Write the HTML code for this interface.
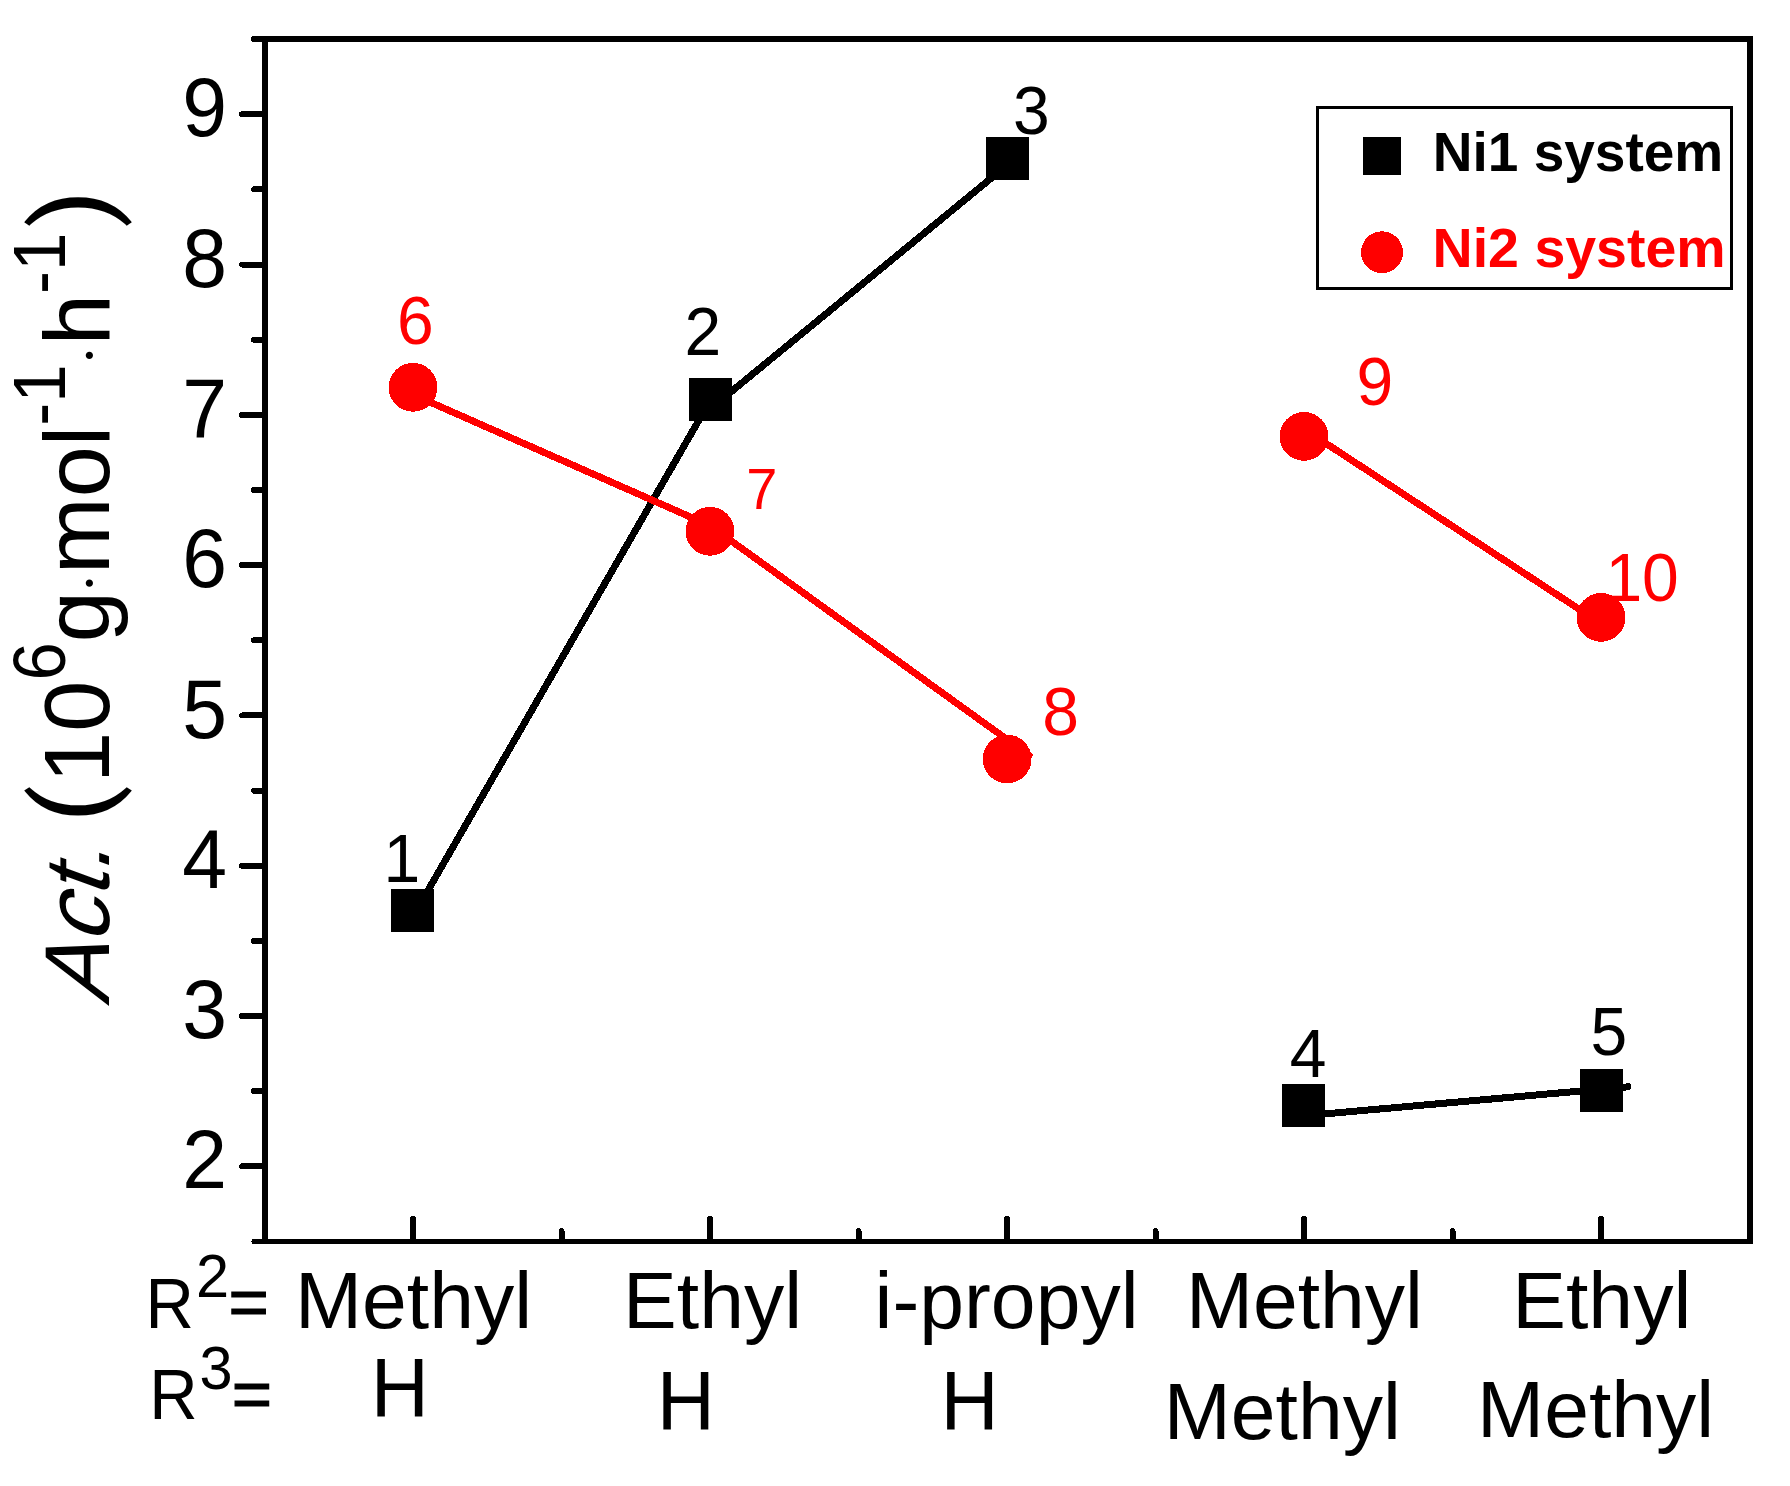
<!DOCTYPE html>
<html lang="en">
<head>
<meta charset="utf-8">
<title>Figure</title>
<style>
  html, body { margin: 0; padding: 0; background: #ffffff; }
  body { width: 1790px; height: 1486px; overflow: hidden; }
  svg { display: block; }
  text { font-family: "Liberation Sans", Arial, Helvetica, sans-serif; }
  .tick { font-size: 80.5px; fill: #000; }
  .cat { font-size: 80.5px; fill: #000; }
  .pt { font-size: 66px; }
  .leg { font-size: 55.5px; font-weight: bold; }
  .ttl { font-size: 92px; fill: #000; }
  .sup { font-size: 69px; fill: #000; }
  .paren { font-family: "Noto Serif CJK SC", "Noto Sans CJK SC", serif; font-weight: 600; fill: #000; stroke: #000; stroke-width: 4px; }
  .dot { font-family: "Liberation Serif", "Liberation Sans", serif; fill: #000; }
</style>
</head>
<body>
<svg width="1790" height="1486" viewBox="0 0 1790 1486" shape-rendering="crispEdges">
  <rect x="0" y="0" width="1790" height="1486" fill="#ffffff"/>

  <!-- plot frame -->
  <g fill="#000">
    <rect x="262" y="36" width="1491" height="6"/>
    <rect x="262" y="1239" width="1491" height="5"/>
    <rect x="262" y="36" width="6" height="1208"/>
    <rect x="1747" y="36" width="6" height="1208"/>
  </g>

  <!-- axis ticks -->
  <g stroke="#000" stroke-width="6" stroke-linecap="round">
    <line x1="242" y1="1166.35" x2="264" y2="1166.35"/>
    <line x1="242" y1="1016.05" x2="264" y2="1016.05"/>
    <line x1="242" y1="865.75" x2="264" y2="865.75"/>
    <line x1="242" y1="715.45" x2="264" y2="715.45"/>
    <line x1="242" y1="565.15" x2="264" y2="565.15"/>
    <line x1="242" y1="414.85" x2="264" y2="414.85"/>
    <line x1="242" y1="264.55" x2="264" y2="264.55"/>
    <line x1="242" y1="114.25" x2="264" y2="114.25"/>
    <line x1="254" y1="1241.5" x2="264" y2="1241.5" stroke-width="5"/>
    <line x1="254" y1="1091.2" x2="264" y2="1091.2"/>
    <line x1="254" y1="940.9" x2="264" y2="940.9"/>
    <line x1="254" y1="790.6" x2="264" y2="790.6"/>
    <line x1="254" y1="640.3" x2="264" y2="640.3"/>
    <line x1="254" y1="490.0" x2="264" y2="490.0"/>
    <line x1="254" y1="339.7" x2="264" y2="339.7"/>
    <line x1="254" y1="189.4" x2="264" y2="189.4"/>
    <line x1="254" y1="39" x2="264" y2="39"/>
    <line x1="413" y1="1219" x2="413" y2="1240"/>
    <line x1="710" y1="1219" x2="710" y2="1240"/>
    <line x1="1007" y1="1219" x2="1007" y2="1240"/>
    <line x1="1304" y1="1219" x2="1304" y2="1240"/>
    <line x1="1601" y1="1219" x2="1601" y2="1240"/>
    <line x1="561.5" y1="1231" x2="561.5" y2="1240"/>
    <line x1="858.5" y1="1231" x2="858.5" y2="1240"/>
    <line x1="1155.5" y1="1231" x2="1155.5" y2="1240"/>
    <line x1="1452.5" y1="1231" x2="1452.5" y2="1240"/>
  </g>

  <!-- y tick labels -->
  <g class="tick" text-anchor="end">
    <text transform="translate(227,136.2) scale(1,1.04)" >9</text>
    <text transform="translate(227,286.6) scale(1,1.04)" >8</text>
    <text transform="translate(227,436.9) scale(1,1.04)" >7</text>
    <text transform="translate(227,587.1) scale(1,1.04)" >6</text>
    <text transform="translate(227,737.5) scale(1,1.04)" >5</text>
    <text transform="translate(227,887.8) scale(1,1.04)" >4</text>
    <text transform="translate(227,1038.0) scale(1,1.04)" >3</text>
    <text transform="translate(227,1188.3) scale(1,1.04)" >2</text>
  </g>

  <!-- y axis title -->
  <g transform="translate(109,0) rotate(-90)">
    <text class="ttl" transform="skewX(-20)" x="-1006.3" y="0">Act.</text>
    <text class="paren" font-size="100" transform="translate(-867.5,10.1) scale(0.83,1.083)">（</text>
    <text class="ttl" x="-782.9" y="0">10</text>
    <text class="sup" transform="translate(-680.6,-44.1) scale(1,1.07)">6</text>
    <text class="ttl" x="-642.2" y="0">g</text>
    <text class="dot" x="-593.3" y="0.5" font-size="61">·</text>
    <text class="ttl" x="-574" y="0">mol</text>
    <text class="sup" transform="translate(-425.8,-44.1) scale(1,1.07)">-1</text>
    <text class="dot" x="-365.6" y="0.5" font-size="61">·</text>
    <text class="ttl" x="-345.2" y="0">h</text>
    <text class="sup" transform="translate(-294,-44.1) scale(1,1.07)">-1</text>
    <text class="paren" font-size="100" transform="translate(-228.3,10.1) scale(0.83,1.083)">）</text>
  </g>

  <!-- connecting lines -->
  <g fill="none" stroke-width="7" stroke-linecap="round" stroke-linejoin="round">
    <polyline stroke="#000" points="416.4,910.5 706.5,407"/>
    <polyline stroke="#000" points="706,412.4 1007.5,164.8"/>
    <polyline stroke="#000" points="1303.5,1115.8 1628,1086.8"/>
    <polyline stroke="#ff0000" points="413,394.6 710,525.6 1029,755.3"/>
    <polyline stroke="#ff0000" points="1304,429 1601,623.5"/>
  </g>

  <!-- Ni1 squares -->
  <g fill="#000">
    <rect x="391" y="889" width="43" height="43"/>
    <rect x="689" y="378" width="43" height="43"/>
    <rect x="986" y="137" width="43" height="43"/>
    <rect x="1282" y="1084" width="43" height="43"/>
    <rect x="1580" y="1069" width="43" height="43"/>
  </g>
  <!-- Ni2 circles -->
  <g fill="#ff0000">
    <circle cx="413" cy="387.3" r="24.4"/>
    <circle cx="710" cy="531.3" r="24.4"/>
    <circle cx="1007.1" cy="759" r="24.4"/>
    <circle cx="1304" cy="436.4" r="24.4"/>
    <circle cx="1601" cy="617.4" r="24.4"/>
  </g>

  <!-- point labels -->
  <g class="pt" fill="#000">
    <text transform="translate(383.4,882) scale(1,1.04)" >1</text>
    <text transform="translate(684.4,355.3) scale(1,1.04)" >2</text>
    <text transform="translate(1012.9,134.2) scale(1,1.04)" >3</text>
    <text transform="translate(1289.8,1076.6) scale(1,1.04)" >4</text>
    <text transform="translate(1590.6,1055.2) scale(1,1.04)" >5</text>
  </g>
  <g class="pt" fill="#ff0000">
    <text transform="translate(397.1,343.5) scale(1,1.04)" >6</text>
    <text transform="translate(746.3,509) scale(1,1.04)" font-size="56">7</text>
    <text transform="translate(1042.3,735.1) scale(1,1.04)" >8</text>
    <text transform="translate(1356.4,405.3) scale(1,1.04)" >9</text>
    <text transform="translate(1605.4,601.1) scale(1,1.04)" >10</text>
  </g>

  <!-- legend -->
  <rect x="1317.5" y="107.5" width="414" height="181" fill="#fff" stroke="#000" stroke-width="3"/>
  <rect x="1363" y="137" width="38" height="38" fill="#000"/>
  <circle cx="1382" cy="252.3" r="21" fill="#ff0000"/>
  <text class="leg" x="1432.8" y="171" font-size="55" style="font-size:55px" fill="#000">Ni1 system</text>
  <text class="leg" x="1432.6" y="267" fill="#ff0000">Ni2 system</text>

  <!-- x category labels -->
  <g class="cat">
    <text x="295" y="1327.8">Methyl</text>
    <text x="623.1" y="1327.8">Ethyl</text>
    <text x="874.6" y="1327.8">i-propyl</text>
    <text x="1185.9" y="1327.9">Methyl</text>
    <text x="1512.3" y="1327.9">Ethyl</text>
    <text transform="translate(370.7,1416.7) scale(1,1.04)" >H</text>
    <text transform="translate(656.7,1430.4) scale(1,1.04)" >H</text>
    <text transform="translate(940.6,1430.4) scale(1,1.04)" >H</text>
    <text x="1163.8" y="1439">Methyl</text>
    <text x="1477.1" y="1436.8">Methyl</text>
  </g>
  <!-- R2 / R3 row headers -->
  <g fill="#000">
    <text transform="translate(145.5,1327.8) scale(1,1.04)" font-size="67">R</text>
    <text transform="translate(196,1296.5) scale(1,1.04)" font-size="59.5">2</text>
    <text x="228.4" y="1326" font-size="69" stroke="#000" stroke-width="1.2">=</text>
    <text transform="translate(149.2,1418.7) scale(1,1.04)" font-size="67">R</text>
    <text transform="translate(199.6,1388.5) scale(1,1.04)" font-size="59.5">3</text>
    <text x="231.8" y="1417.5" font-size="69" stroke="#000" stroke-width="1.2">=</text>
  </g>
</svg>
</body>
</html>
